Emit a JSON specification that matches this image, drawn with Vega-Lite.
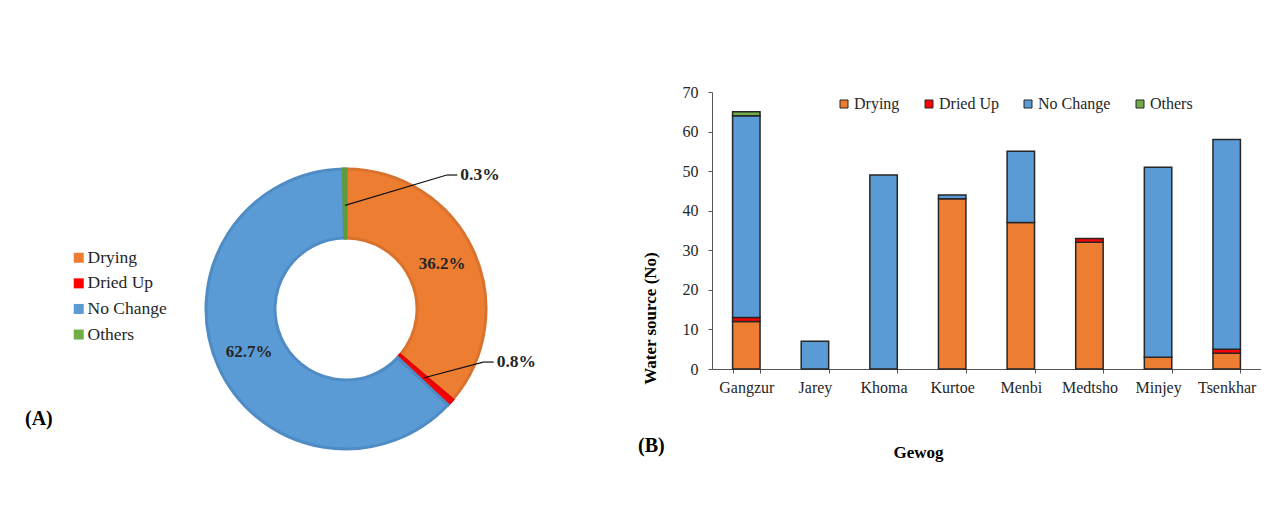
{
  "$schema": "https://vega.github.io/schema/vega-lite/v6.json",
  "padding": {"left": 25, "top": 84, "right": 0, "bottom": 0},
  "background": "white",
  "config": {
    "view": {"stroke": null},
    "font": "Liberation Serif",
    "axis": {"labelFont": "Liberation Serif", "titleFont": "Liberation Serif", "labelFontSize": 16, "titleFontSize": 17, "labelColor": "#262626", "titleColor": "#000000", "domainColor": "#555555", "tickColor": "#555555", "grid": false},
    "legend": {"labelFont": "Liberation Serif", "labelColor": "#262626"},
    "title": {"font": "Liberation Serif"}
  },
  "datasets": {
    "share": [
      {"status": "Drying", "pct": 36.2},
      {"status": "Dried Up", "pct": 0.8},
      {"status": "No Change", "pct": 62.7},
      {"status": "Others", "pct": 0.3}
    ],
    "sources": [
      {"gewog": "Gangzur", "status": "Drying", "count": 12},
      {"gewog": "Gangzur", "status": "Dried Up", "count": 1},
      {"gewog": "Gangzur", "status": "No Change", "count": 51},
      {"gewog": "Gangzur", "status": "Others", "count": 1},
      {"gewog": "Jarey", "status": "No Change", "count": 7},
      {"gewog": "Khoma", "status": "No Change", "count": 49},
      {"gewog": "Kurtoe", "status": "Drying", "count": 43},
      {"gewog": "Kurtoe", "status": "No Change", "count": 1},
      {"gewog": "Menbi", "status": "Drying", "count": 37},
      {"gewog": "Menbi", "status": "No Change", "count": 18},
      {"gewog": "Medtsho", "status": "Drying", "count": 32},
      {"gewog": "Medtsho", "status": "Dried Up", "count": 1},
      {"gewog": "Minjey", "status": "Drying", "count": 3},
      {"gewog": "Minjey", "status": "No Change", "count": 48},
      {"gewog": "Tsenkhar", "status": "Drying", "count": 4},
      {"gewog": "Tsenkhar", "status": "Dried Up", "count": 1},
      {"gewog": "Tsenkhar", "status": "No Change", "count": 53}
    ]
  },
  "resolve": {"scale": {"color": "independent"}, "legend": {"color": "independent"}},
  "spacing": 101,
  "hconcat": [
    {
      "width": 280,
      "height": 434,
      "data": {"name": "share"},
      "transform": [
        {"calculate": "indexof(['Drying','Dried Up','No Change','Others'], datum.status)", "as": "ord"}
      ],
      "title": {"text": "(A)", "orient": "bottom", "anchor": "start", "frame": "bounds", "fontSize": 20, "fontWeight": "bold", "color": "#000000", "dx": -45, "dy": -121},
      "layer": [
        {
          "mark": {"type": "arc", "outerRadius": 140, "innerRadius": 71, "strokeWidth": 3},
          "encoding": {
            "theta": {"field": "pct", "type": "quantitative", "stack": true},
            "order": {"field": "ord", "type": "quantitative"},
            "color": {
              "field": "status", "type": "nominal",
              "scale": {"domain": ["Drying", "Dried Up", "No Change", "Others"], "range": ["#ED7D31", "#FF0000", "#5B9BD5", "#70AD47"]},
              "legend": {"orient": "none", "legendX": -136, "legendY": 157, "title": null, "symbolType": "square", "symbolSize": 100, "symbolStrokeWidth": 0, "labelFontSize": 17.5, "rowPadding": 6.6, "labelOffset": 0, "padding": 0}
            },
            "stroke": {
              "field": "status", "type": "nominal",
              "scale": {"domain": ["Drying", "Dried Up", "No Change", "Others"], "range": ["#D8722D", "#E80000", "#4F8BC4", "#5F9A3C"]},
              "legend": null
            }
          }
        },
        {
          "transform": [{"calculate": "datum.pct > 5 ? format(datum.pct, '.1f') + '%' : ''", "as": "lab"}],
          "mark": {"type": "text", "radius": 106, "fontSize": 17, "fontWeight": "bold", "color": "#262626"},
          "encoding": {
            "theta": {"field": "pct", "type": "quantitative", "stack": true},
            "order": {"field": "ord", "type": "quantitative"},
            "detail": {"field": "status", "type": "nominal"},
            "text": {"field": "lab", "type": "nominal"}
          }
        },
        {
          "transform": [
            {"window": [{"op": "sum", "field": "pct", "as": "cum"}], "sort": [{"field": "ord"}]},
            {"filter": "datum.pct < 1"},
            {"calculate": "(datum.cum - datum.pct / 2) / 100 * 2 * PI", "as": "mid"},
            {"calculate": "0.74 * sin(datum.mid)", "as": "sx"},
            {"calculate": "0.74 * cos(datum.mid)", "as": "sy"},
            {"calculate": "datum.status == 'Others' ? 0.72 : 0.98", "as": "ex"},
            {"calculate": "datum.status == 'Others' ? 0.957 : -0.379", "as": "ey"},
            {"calculate": "datum.ex + 0.075", "as": "lx"},
            {"calculate": "format(datum.pct, '.1f') + '%'", "as": "lab"}
          ],
          "layer": [
            {
              "mark": {"type": "rule", "color": "#111111", "strokeWidth": 1.2},
              "encoding": {
                "x": {"field": "sx", "type": "quantitative", "scale": {"domain": [-1, 1], "nice": false, "zero": false}, "axis": null},
                "y": {"field": "sy", "type": "quantitative", "scale": {"domain": [-1.55, 1.55], "nice": false, "zero": false}, "axis": null},
                "x2": {"field": "ex"},
                "y2": {"field": "ey"}
              }
            },
            {
              "mark": {"type": "rule", "color": "#111111", "strokeWidth": 1.2},
              "encoding": {
                "x": {"field": "ex", "type": "quantitative", "scale": {"domain": [-1, 1], "nice": false, "zero": false}, "axis": null},
                "y": {"field": "ey", "type": "quantitative", "scale": {"domain": [-1.55, 1.55], "nice": false, "zero": false}, "axis": null},
                "x2": {"field": "lx"}
              }
            },
            {
              "mark": {"type": "text", "align": "left", "baseline": "middle", "dx": 3, "fontSize": 17.5, "fontWeight": "bold", "color": "#262626"},
              "encoding": {
                "x": {"field": "lx", "type": "quantitative", "scale": {"domain": [-1, 1], "nice": false, "zero": false}, "axis": null},
                "y": {"field": "ey", "type": "quantitative", "scale": {"domain": [-1.55, 1.55], "nice": false, "zero": false}, "axis": null},
                "text": {"field": "lab", "type": "nominal"}
              }
            }
          ]
        }
      ]
    },
    {
      "width": 549,
      "height": 277,
      "data": {"name": "sources"},
      "transform": [
        {"calculate": "indexof(['Drying','Dried Up','No Change','Others'], datum.status)", "as": "ord"}
      ],
      "title": {"text": "(B)", "orient": "bottom", "anchor": "start", "frame": "bounds", "fontSize": 20, "fontWeight": "bold", "color": "#000000", "dx": -3, "dy": -28},
      "mark": {"type": "bar", "stroke": "#262626", "strokeWidth": 1.5},
      "encoding": {
        "x": {
          "field": "gewog", "type": "nominal",
          "sort": ["Gangzur", "Jarey", "Khoma", "Kurtoe", "Menbi", "Medtsho", "Minjey", "Tsenkhar"],
          "scale": {"paddingInner": 0.6, "paddingOuter": 0.3},
          "axis": {"title": "Gewog", "labelAngle": 0, "tickBand": "extent", "tickSize": 4, "labelPadding": 6, "titleFontWeight": "bold", "titleX": 206, "titleY": 75}
        },
        "y": {
          "field": "count", "type": "quantitative", "stack": "zero",
          "scale": {"domain": [0, 70], "nice": false},
          "axis": {"title": "Water source (No)", "values": [0, 10, 20, 30, 40, 50, 60, 70], "tickSize": 4, "labelPadding": 10, "titleFontWeight": "bold", "titlePadding": 23, "titleY": 226}
        },
        "color": {
          "field": "status", "type": "nominal",
          "scale": {"domain": ["Drying", "Dried Up", "No Change", "Others"], "range": ["#ED7D31", "#FF0000", "#5B9BD5", "#70AD47"]},
          "legend": {"orient": "none", "legendX": 124, "legendY": 4, "direction": "horizontal", "columns": 4, "title": null, "symbolType": "square", "symbolSize": 64, "symbolStrokeColor": "#262626", "symbolStrokeWidth": 1, "labelFontSize": 16, "columnPadding": 21, "labelOffset": 2, "padding": 0}
        },
        "order": {"field": "ord", "type": "quantitative"}
      }
    }
  ]
}
